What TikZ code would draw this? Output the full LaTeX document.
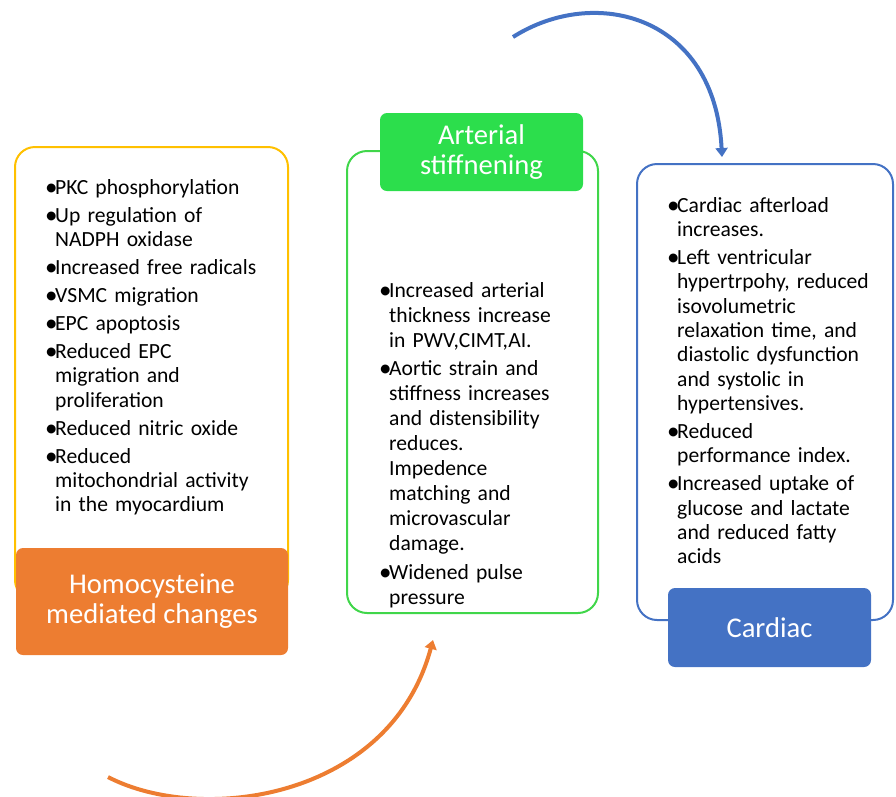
\documentclass[tikz,border=0pt]{standalone}
\usepackage{fontspec}
\setmainfont{Carlito}
\usetikzlibrary{arrows.meta}
\definecolor{hyel}{RGB}{255,192,0}
\definecolor{horg}{RGB}{237,125,49}
\definecolor{hgrn}{RGB}{44,222,76}
\definecolor{hgrnl}{RGB}{64,214,74}
\definecolor{hblu}{RGB}{68,114,196}
\newcommand\nl{\hfil\break}
\newcommand\bgap{3.7pt}
\newcommand\bdot{\raisebox{-1pt}{\fontsize{25}{24}\selectfont •}}
\newcommand\bitem[1]{\par\noindent\hangindent=10pt\hangafter=1 \makebox[10pt][l]{\bdot}#1\par\vspace{\bgap}}
\begin{document}
\begin{tikzpicture}[x=1pt,y=-1pt,
  outline/.style={rounded corners=20pt, line width=2pt, inner sep=0pt},
  titlebox/.style={rounded corners=7pt, text=white, align=center, inner sep=0pt,
    font=\fontsize{28.6}{30}\selectfont},
  bullets/.style={anchor=base west, inner sep=0pt, text width=280pt,
    font=\fontsize{21.6}{24.3}\selectfont},
  arr/.style={line width=4pt, -{Triangle[length=9pt,width=12pt]}}]
\useasboundingbox (0,0) rectangle (896,796);

% outlines
\node[outline, draw=hyel, minimum width=273pt, minimum height=453pt] (homout) at (151.5,373.5) {};
\node[outline, draw=hgrnl, minimum width=251pt, minimum height=462pt] (artout) at (472.5,382) {};
\node[outline, draw=hblu, minimum width=256pt, minimum height=456pt] (carout) at (765,392) {};

% title boxes
\node[titlebox, fill=horg, minimum width=272pt, minimum height=107pt] (hom) at (152,601.5) {Homocysteine\\mediated changes};
\node[titlebox, fill=hgrn, minimum width=203pt, minimum height=78pt] (art) at (481.5,152) {Arterial\\stiffnening};
\node[titlebox, fill=hblu, minimum width=203pt, minimum height=79pt] (car) at (769.5,627.5) {Cardiac};

% bullet lists
\node[bullets] (homtxt) at (45,170) {%
\bitem{PKC phosphorylation}
\bitem{Up regulation of\nl NADPH oxidase}
\bitem{Increased free radicals}
\bitem{VSMC migration}
\bitem{EPC apoptosis}
\bitem{Reduced EPC\nl migration and\nl proliferation}
\bitem{Reduced nitric oxide}
\bitem{Reduced\nl mitochondrial activity\nl in the myocardium}};

\node[bullets, font=\fontsize{21.6}{25}\selectfont] (arttxt) at (379,272) {%
\renewcommand\bgap{3.5pt}%
\bitem{Increased arterial\nl thickness increase\nl in PWV,CIMT,AI.}
\bitem{Aortic strain and\nl stiffness increases\nl and distensibility\nl reduces.\nl Impedence\nl matching and\nl microvascular\nl damage.}
\bitem{Widened pulse\nl pressure}};

\node[bullets] (cartxt) at (667,188) {%
\bitem{Cardiac afterload\nl increases.}
\bitem{Left ventricular\nl hypertrpohy, reduced\nl isovolumetric\nl relaxation time, and\nl diastolic dysfunction\nl and systolic in\nl hypertensives.}
\bitem{Reduced\nl performance index.}
\bitem{Increased uptake of\nl glucose and lactate\nl and reduced fatty\nl acids}};

% arrows
\coordinate (bs) at (513,37);
\coordinate (bt) at (722,157);
\draw[arr, hblu] (bs) .. controls (595,-15) and (715,15) .. (bt);
\coordinate (os) at (108,777);
\coordinate (ot) at (433,640);
\draw[arr, horg] (os) .. controls (200,825) and (390,800) .. (ot);
\end{tikzpicture}
\end{document}
